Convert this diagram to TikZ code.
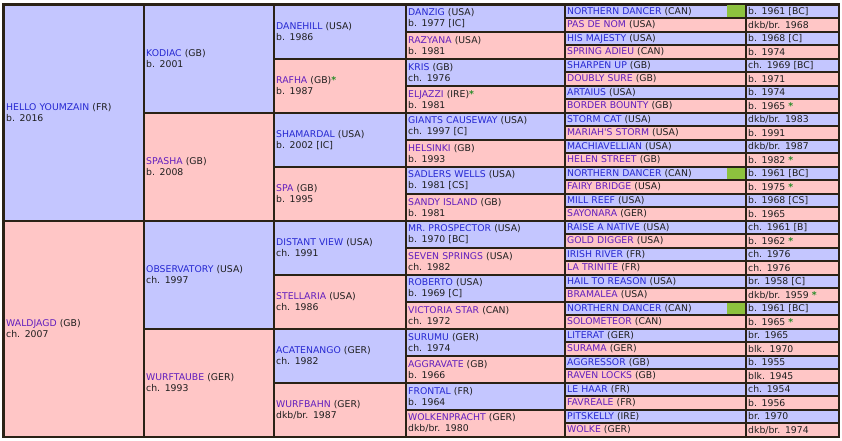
\documentclass[tikz,border=0pt]{standalone}
\usepackage{fontspec}
\setmainfont{DejaVu Sans}
\usepackage{tikz}
\definecolor{sirefill}{RGB}{196,198,255}
\definecolor{damfill}{RGB}{255,198,198}
\definecolor{gridcol}{RGB}{42,34,22}
\definecolor{sirelink}{RGB}{38,40,210}
\definecolor{damlink}{RGB}{98,30,190}
\definecolor{txtcol}{RGB}{30,30,30}
\definecolor{starcol}{RGB}{40,140,40}
\definecolor{ndgreen}{RGB}{141,194,62}
\newcommand{\pedfont}{\fontsize{9.3}{11}\selectfont}
\newcommand{\sirename}[1]{\textcolor{sirelink}{#1}}
\newcommand{\damname}[1]{\textcolor{damlink}{#1}}
\newcommand{\gstar}{\textcolor{starcol}{\textbf{*}}}
\tikzset{cell/.style = {anchor = north west, inner xsep = 1.5pt, inner ysep = 0pt, align = left, font = \pedfont, text = txtcol}}
\tikzset{sirecell/.style = {cell, fill = sirefill}}
\tikzset{damcell/.style = {cell, fill = damfill}}
\tikzset{gena/.style = {text width = 135pt, minimum height = 214pt}}
\tikzset{genb/.style = {text width = 125pt, minimum height = 106pt}}
\tikzset{genc/.style = {text width = 127pt, minimum height = 52pt}}
\tikzset{gend/.style = {text width = 154pt, minimum height = 25pt}}
\tikzset{gene/.style = {text width = 176pt, minimum height = 11.5pt}}
\tikzset{yearcell/.style = {text width = 88pt, minimum height = 11.5pt}}

\begin{document}
\begin{tikzpicture}[x = 1pt, y = -1pt]
	\useasboundingbox (0, 0) rectangle (842, 441);
	\fill[white] (0, 0) rectangle (842, 441);
	\fill[gridcol] (2, 3) rectangle (840, 438);

	% first generation
	\node[sirecell, gena] (s) at (4.5, 5.5) {\sirename{HELLO YOUMZAIN} (FR)\\b. 2016};
	\node[damcell, gena] (d) at (4.5, 221.5) {\damname{WALDJAGD} (GB)\\ch. 2007};

	% second generation
	\node[sirecell, genb] (ss) at (144.5, 5.5) {\sirename{KODIAC} (GB)\\b. 2001};
	\node[damcell, genb] (sd) at (144.5, 113.5) {\damname{SPASHA} (GB)\\b. 2008};
	\node[sirecell, genb] (ds) at (144.5, 221.5) {\sirename{OBSERVATORY} (USA)\\ch. 1997};
	\node[damcell, genb] (dd) at (144.5, 329.5) {\damname{WURFTAUBE} (GER)\\ch. 1993};

	% third generation
	\node[sirecell, genc] (sss) at (274.5, 5.5) {\sirename{DANEHILL} (USA)\\b. 1986};
	\node[damcell, genc] (ssd) at (274.5, 59.5) {\damname{RAFHA} (GB)\gstar\\b. 1987};
	\node[sirecell, genc] (sds) at (274.5, 113.5) {\sirename{SHAMARDAL} (USA)\\b. 2002 [IC]};
	\node[damcell, genc] (sdd) at (274.5, 167.5) {\damname{SPA} (GB)\\b. 1995};
	\node[sirecell, genc] (dss) at (274.5, 221.5) {\sirename{DISTANT VIEW} (USA)\\ch. 1991};
	\node[damcell, genc] (dsd) at (274.5, 275.5) {\damname{STELLARIA} (USA)\\ch. 1986};
	\node[sirecell, genc] (dds) at (274.5, 329.5) {\sirename{ACATENANGO} (GER)\\ch. 1982};
	\node[damcell, genc] (ddd) at (274.5, 383.5) {\damname{WURFBAHN} (GER)\\dkb/br. 1987};

	% fourth generation
	\node[sirecell, gend] (ssss) at (406.5, 5.5) {\sirename{DANZIG} (USA)\\b. 1977 [IC]};
	\node[damcell, gend] (sssd) at (406.5, 32.5) {\damname{RAZYANA} (USA)\\b. 1981};
	\node[sirecell, gend] (ssds) at (406.5, 59.5) {\sirename{KRIS} (GB)\\ch. 1976};
	\node[damcell, gend] (ssdd) at (406.5, 86.5) {\damname{ELJAZZI} (IRE)\gstar\\b. 1981};
	\node[sirecell, gend] (sdss) at (406.5, 113.5) {\sirename{GIANTS CAUSEWAY} (USA)\\ch. 1997 [C]};
	\node[damcell, gend] (sdsd) at (406.5, 140.5) {\damname{HELSINKI} (GB)\\b. 1993};
	\node[sirecell, gend] (sdds) at (406.5, 167.5) {\sirename{SADLERS WELLS} (USA)\\b. 1981 [CS]};
	\node[damcell, gend] (sddd) at (406.5, 194.5) {\damname{SANDY ISLAND} (GB)\\b. 1981};
	\node[sirecell, gend] (dsss) at (406.5, 221.5) {\sirename{MR. PROSPECTOR} (USA)\\b. 1970 [BC]};
	\node[damcell, gend] (dssd) at (406.5, 248.5) {\damname{SEVEN SPRINGS} (USA)\\ch. 1982};
	\node[sirecell, gend] (dsds) at (406.5, 275.5) {\sirename{ROBERTO} (USA)\\b. 1969 [C]};
	\node[damcell, gend] (dsdd) at (406.5, 302.5) {\damname{VICTORIA STAR} (CAN)\\ch. 1972};
	\node[sirecell, gend] (ddss) at (406.5, 329.5) {\sirename{SURUMU} (GER)\\ch. 1974};
	\node[damcell, gend] (ddsd) at (406.5, 356.5) {\damname{AGGRAVATE} (GB)\\b. 1966};
	\node[sirecell, gend] (ddds) at (406.5, 383.5) {\sirename{FRONTAL} (FR)\\b. 1964};
	\node[damcell, gend] (dddd) at (406.5, 410.5) {\damname{WOLKENPRACHT} (GER)\\dkb/br. 1980};

	% fifth generation
	\node[sirecell, gene] (sssss) at (565.5, 5.5) {\sirename{NORTHERN DANCER} (CAN)};
	\node[damcell, gene] (ssssd) at (565.5, 19) {\damname{PAS DE NOM} (USA)};
	\node[sirecell, gene] (sssds) at (565.5, 32.5) {\sirename{HIS MAJESTY} (USA)};
	\node[damcell, gene] (sssdd) at (565.5, 46) {\damname{SPRING ADIEU} (CAN)};
	\node[sirecell, gene] (ssdss) at (565.5, 59.5) {\sirename{SHARPEN UP} (GB)};
	\node[damcell, gene] (ssdsd) at (565.5, 73) {\damname{DOUBLY SURE} (GB)};
	\node[sirecell, gene] (ssdds) at (565.5, 86.5) {\sirename{ARTAIUS} (USA)};
	\node[damcell, gene] (ssddd) at (565.5, 100) {\damname{BORDER BOUNTY} (GB)};
	\node[sirecell, gene] (sdsss) at (565.5, 113.5) {\sirename{STORM CAT} (USA)};
	\node[damcell, gene] (sdssd) at (565.5, 127) {\damname{MARIAH\textquotesingle S STORM} (USA)};
	\node[sirecell, gene] (sdsds) at (565.5, 140.5) {\sirename{MACHIAVELLIAN} (USA)};
	\node[damcell, gene] (sdsdd) at (565.5, 154) {\damname{HELEN STREET} (GB)};
	\node[sirecell, gene] (sddss) at (565.5, 167.5) {\sirename{NORTHERN DANCER} (CAN)};
	\node[damcell, gene] (sddsd) at (565.5, 181) {\damname{FAIRY BRIDGE} (USA)};
	\node[sirecell, gene] (sddds) at (565.5, 194.5) {\sirename{MILL REEF} (USA)};
	\node[damcell, gene] (sdddd) at (565.5, 208) {\damname{SAYONARA} (GER)};
	\node[sirecell, gene] (dssss) at (565.5, 221.5) {\sirename{RAISE A NATIVE} (USA)};
	\node[damcell, gene] (dsssd) at (565.5, 235) {\damname{GOLD DIGGER} (USA)};
	\node[sirecell, gene] (dssds) at (565.5, 248.5) {\sirename{IRISH RIVER} (FR)};
	\node[damcell, gene] (dssdd) at (565.5, 262) {\damname{LA TRINITE} (FR)};
	\node[sirecell, gene] (dsdss) at (565.5, 275.5) {\sirename{HAIL TO REASON} (USA)};
	\node[damcell, gene] (dsdsd) at (565.5, 289) {\damname{BRAMALEA} (USA)};
	\node[sirecell, gene] (dsdds) at (565.5, 302.5) {\sirename{NORTHERN DANCER} (CAN)};
	\node[damcell, gene] (dsddd) at (565.5, 316) {\damname{SOLOMETEOR} (CAN)};
	\node[sirecell, gene] (ddsss) at (565.5, 329.5) {\sirename{LITERAT} (GER)};
	\node[damcell, gene] (ddssd) at (565.5, 343) {\damname{SURAMA} (GER)};
	\node[sirecell, gene] (ddsds) at (565.5, 356.5) {\sirename{AGGRESSOR} (GB)};
	\node[damcell, gene] (ddsdd) at (565.5, 370) {\damname{RAVEN LOCKS} (GB)};
	\node[sirecell, gene] (dddss) at (565.5, 383.5) {\sirename{LE HAAR} (FR)};
	\node[damcell, gene] (dddsd) at (565.5, 397) {\damname{FAVREALE} (FR)};
	\node[sirecell, gene] (dddds) at (565.5, 410.5) {\sirename{PITSKELLY} (IRE)};
	\node[damcell, gene] (ddddd) at (565.5, 424) {\damname{WOLKE} (GER)};

	% fifth generation, years
	\node[sirecell, yearcell] (sssss-y) at (746.5, 5.5) {b. 1961 [BC]};
	\node[damcell, yearcell] (ssssd-y) at (746.5, 19) {dkb/br. 1968};
	\node[sirecell, yearcell] (sssds-y) at (746.5, 32.5) {b. 1968 [C]};
	\node[damcell, yearcell] (sssdd-y) at (746.5, 46) {b. 1974};
	\node[sirecell, yearcell] (ssdss-y) at (746.5, 59.5) {ch. 1969 [BC]};
	\node[damcell, yearcell] (ssdsd-y) at (746.5, 73) {b. 1971};
	\node[sirecell, yearcell] (ssdds-y) at (746.5, 86.5) {b. 1974};
	\node[damcell, yearcell] (ssddd-y) at (746.5, 100) {b. 1965 \gstar};
	\node[sirecell, yearcell] (sdsss-y) at (746.5, 113.5) {dkb/br. 1983};
	\node[damcell, yearcell] (sdssd-y) at (746.5, 127) {b. 1991};
	\node[sirecell, yearcell] (sdsds-y) at (746.5, 140.5) {dkb/br. 1987};
	\node[damcell, yearcell] (sdsdd-y) at (746.5, 154) {b. 1982 \gstar};
	\node[sirecell, yearcell] (sddss-y) at (746.5, 167.5) {b. 1961 [BC]};
	\node[damcell, yearcell] (sddsd-y) at (746.5, 181) {b. 1975 \gstar};
	\node[sirecell, yearcell] (sddds-y) at (746.5, 194.5) {b. 1968 [CS]};
	\node[damcell, yearcell] (sdddd-y) at (746.5, 208) {b. 1965};
	\node[sirecell, yearcell] (dssss-y) at (746.5, 221.5) {ch. 1961 [B]};
	\node[damcell, yearcell] (dsssd-y) at (746.5, 235) {b. 1962 \gstar};
	\node[sirecell, yearcell] (dssds-y) at (746.5, 248.5) {ch. 1976};
	\node[damcell, yearcell] (dssdd-y) at (746.5, 262) {ch. 1976};
	\node[sirecell, yearcell] (dsdss-y) at (746.5, 275.5) {br. 1958 [C]};
	\node[damcell, yearcell] (dsdsd-y) at (746.5, 289) {dkb/br. 1959 \gstar};
	\node[sirecell, yearcell] (dsdds-y) at (746.5, 302.5) {b. 1961 [BC]};
	\node[damcell, yearcell] (dsddd-y) at (746.5, 316) {b. 1965 \gstar};
	\node[sirecell, yearcell] (ddsss-y) at (746.5, 329.5) {br. 1965};
	\node[damcell, yearcell] (ddssd-y) at (746.5, 343) {blk. 1970};
	\node[sirecell, yearcell] (ddsds-y) at (746.5, 356.5) {b. 1955};
	\node[damcell, yearcell] (ddsdd-y) at (746.5, 370) {blk. 1945};
	\node[sirecell, yearcell] (dddss-y) at (746.5, 383.5) {ch. 1954};
	\node[damcell, yearcell] (dddsd-y) at (746.5, 397) {b. 1956};
	\node[sirecell, yearcell] (dddds-y) at (746.5, 410.5) {br. 1970};
	\node[damcell, yearcell] (ddddd-y) at (746.5, 424) {dkb/br. 1974};

	% inbreeding marks
	\fill[ndgreen] (727, 5.5) rectangle (744.5, 17);
	\fill[ndgreen] (727, 167.5) rectangle (744.5, 179);
	\fill[ndgreen] (727, 302.5) rectangle (744.5, 314);
\end{tikzpicture}
\end{document}
